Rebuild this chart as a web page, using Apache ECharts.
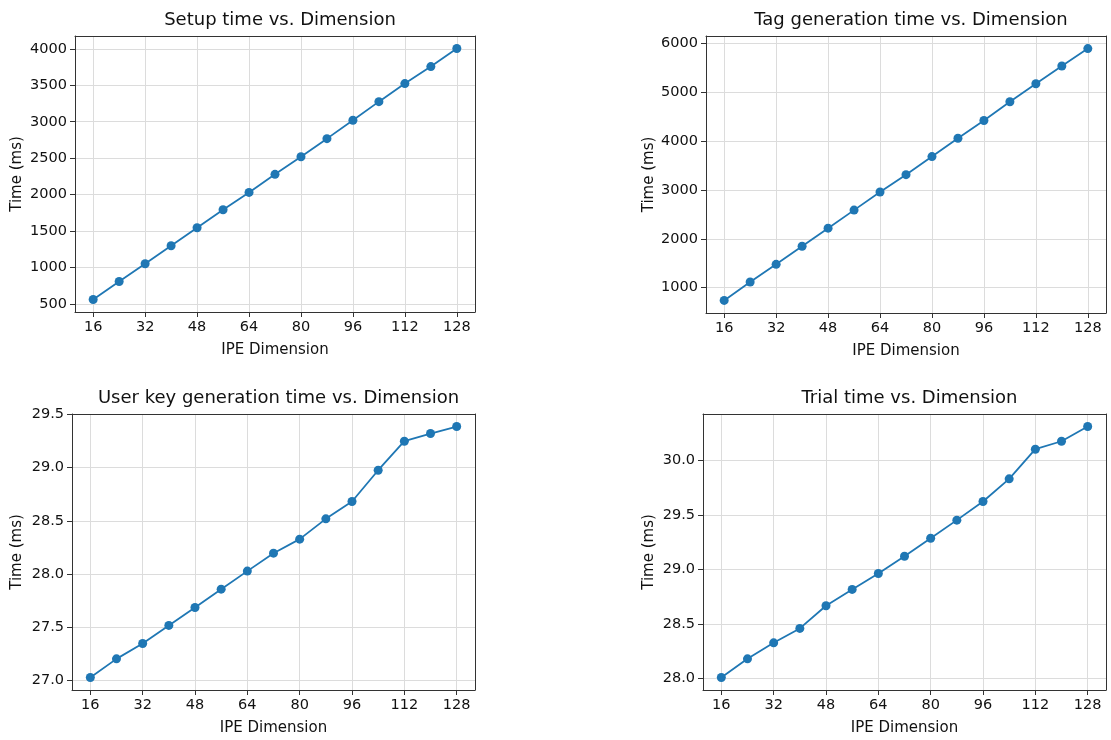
<!DOCTYPE html>
<html>
<head>
<meta charset="utf-8">
<script src="https://cdn.jsdelivr.net/npm/echarts@6/dist/echarts.min.js"></script>
<style>
  html, body { margin: 0; padding: 0; background: #fff; }
  #chart { width: 1111px; height: 740px; }
</style>
</head>
<body>
<div id="chart"></div>
<script>
// IPE dimensions (x axis)
var dims = [16, 24, 32, 40, 48, 56, 64, 72, 80, 88, 96, 104, 112, 120, 128];
var xTicks = [16, 32, 48, 64, 80, 96, 112, 128];

// measured times (ms)
var setupTime = [560, 807, 1050, 1297, 1545, 1792, 2030, 2278, 2520, 2768, 3020, 3276, 3524, 3757, 4005];
var tagTime = [740, 1116, 1479, 1849, 2219, 2589, 2959, 3315, 3685, 4062, 4425, 4808, 5178, 5541, 5897];
var userKeyTime = [27.025, 27.20, 27.345, 27.515, 27.684, 27.856, 28.026, 28.195, 28.327, 28.518, 28.681, 28.976, 29.249, 29.321, 29.387];
var trialTime = [28.009, 28.18, 28.327, 28.459, 28.667, 28.817, 28.963, 29.122, 29.287, 29.453, 29.624, 29.832, 30.104, 30.177, 30.312];

var titles = [
    'Setup time vs. Dimension',
    'Tag generation time vs. Dimension',
    'User key generation time vs. Dimension',
    'Trial time vs. Dimension'
];
var yTicks = [
    [500, 1000, 1500, 2000, 2500, 3000, 3500, 4000],
    [1000, 2000, 3000, 4000, 5000, 6000],
    [27.0, 27.5, 28.0, 28.5, 29.0, 29.5],
    [28.0, 28.5, 29.0, 29.5, 30.0]
];
var series_data = [setupTime, tagTime, userKeyTime, trialTime];

var grids = [
    { left: 75, top: 36, width: 400, height: 276 },
    { left: 706, top: 36, width: 400, height: 277 },
    { left: 72, top: 414, width: 403, height: 276 },
    { left: 703, top: 414, width: 403, height: 276 }
];
var yNameGap = [50, 49, 47, 46];
var yDecimals = [0, 0, 1, 1];

var FONT = 'DejaVu Sans';
var TEXT = '#111';
var SPINE = '#333';
var LINE_BLUE = '#1f77b4';

// matplotlib style 5% margins
function padRange(arr) {
    var lo = Math.min.apply(null, arr), hi = Math.max.apply(null, arr);
    var m = (hi - lo) * 0.05;
    return [lo - m, hi + m];
}

var option = {
    backgroundColor: '#fff',
    animation: false,
    title: [],
    grid: [],
    xAxis: [],
    yAxis: [],
    series: []
};

var xr = padRange(dims);

for (var i = 0; i < 4; i++) {
    var g = grids[i];
    option.grid.push(g);
    option.title.push({
        text: titles[i],
        left: g.left + g.width / 2,
        top: g.top - 30,
        textAlign: 'center',
        textStyle: { fontFamily: FONT, fontSize: 18, fontWeight: 'normal', color: TEXT }
    });

    option.xAxis.push({
        type: 'value',
        gridIndex: i,
        min: xr[0],
        max: xr[1],
        name: 'IPE Dimension',
        nameLocation: 'middle',
        nameGap: 31,
        nameTextStyle: { fontFamily: FONT, fontSize: 15, color: TEXT },
        axisLine: { onZero: false, lineStyle: { color: SPINE, width: 1 } },
        axisTick: { show: true, length: 5, customValues: xTicks, lineStyle: { color: SPINE } },
        axisLabel: { customValues: xTicks, fontFamily: FONT, fontSize: 14.5, color: TEXT, margin: 8 },
        splitLine: { show: true, lineStyle: { color: '#dcdcdc', width: 1 } }
    });
    // top spine
    option.xAxis.push({
        type: 'value',
        gridIndex: i,
        position: 'top',
        min: xr[0],
        max: xr[1],
        axisLine: { onZero: false, lineStyle: { color: SPINE, width: 1 } },
        axisTick: { show: false },
        axisLabel: { show: false },
        splitLine: { show: false }
    });

    var yr = padRange(series_data[i]);
    var dec = yDecimals[i];
    option.yAxis.push({
        type: 'value',
        gridIndex: i,
        min: yr[0],
        max: yr[1],
        name: 'Time (ms)',
        nameLocation: 'middle',
        nameGap: yNameGap[i],
        nameTextStyle: { fontFamily: FONT, fontSize: 15, color: TEXT },
        axisLine: { show: true, onZero: false, lineStyle: { color: SPINE, width: 1 } },
        axisTick: { show: true, length: 5, customValues: yTicks[i], lineStyle: { color: SPINE } },
        axisLabel: {
            customValues: yTicks[i],
            fontFamily: FONT, fontSize: 14.5, color: TEXT, margin: 8,
            formatter: (function (d) { return function (v) { return v.toFixed(d); }; })(dec)
        },
        splitLine: { show: true, lineStyle: { color: '#dcdcdc', width: 1 } }
    });
    // right spine
    option.yAxis.push({
        type: 'value',
        gridIndex: i,
        position: 'right',
        min: yr[0],
        max: yr[1],
        axisLine: { show: true, onZero: false, lineStyle: { color: SPINE, width: 1 } },
        axisTick: { show: false },
        axisLabel: { show: false },
        splitLine: { show: false }
    });

    option.series.push({
        type: 'line',
        xAxisIndex: i * 2,
        yAxisIndex: i * 2,
        data: dims.map(function (d, k) { return [d, series_data[i][k]]; }),
        symbol: 'circle',
        symbolSize: 9,
        lineStyle: { color: LINE_BLUE, width: 1.8 },
        itemStyle: { color: LINE_BLUE }
    });
}

var myChart = echarts.init(document.getElementById('chart'));
myChart.setOption(option);
</script>
</body>
</html>
